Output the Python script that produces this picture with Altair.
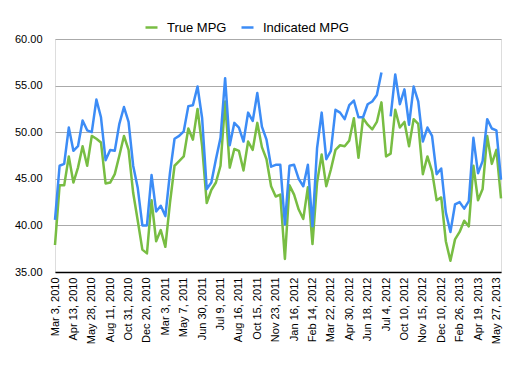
import altair as alt
import pandas as pd

true_mpg = [37.9, 44.3, 44.3, 47.4, 44.6, 46.2, 48.5, 46.4, 49.6, 49.3,
            48.9, 44.5, 44.6, 45.5, 47.5, 49.6, 48.1, 43.5, 40.5, 37.4,
            37.0, 42.7, 38.3, 39.5, 37.7, 42.4, 46.4, 46.9, 47.4, 50.4,
            49.2, 52.5, 48.5, 42.4, 43.8, 44.6, 46.4, 53.3, 46.2, 48.2,
            48.0, 45.9, 49.0, 48.1, 51.0, 48.4, 47.1, 44.2, 43.1, 43.3,
            36.4, 44.3, 43.3, 41.7, 40.7, 44.1, 38.0, 44.6, 47.6, 44.2,
            46.0, 48.1, 48.6, 48.5, 49.1, 51.5, 47.25, 51.5, 50.8, 50.3,
            51.1, 53.2, 47.4, 47.7, 52.4, 50.5, 51.1, 48.5, 51.4, 50.9,
            45.5, 47.4, 45.8, 42.7, 43.0, 38.3, 36.2, 38.5, 39.3, 40.5,
            39.9, 46.4, 42.7, 43.9, 49.6, 46.6, 48.1, 42.9]

indicated_mpg = [40.6, 46.4, 46.6, 50.5, 48.0, 48.5, 51.25, 50.2, 50.0, 53.5,
                 51.6, 47.0, 48.1, 48.0, 50.9, 52.7, 51.1, 46.4, 44.0, 40.0,
                 40.0, 45.4, 41.5, 42.1, 41.0, 45.6, 49.3, 49.6, 50.1, 52.8,
                 52.9, 54.9, 51.5, 43.9, 44.6, 47.1, 49.4, 55.8, 48.6, 51.0,
                 50.5, 49.0, 52.1, 51.2, 54.2, 50.6, 49.2, 46.3, 46.5, 46.5,
                 40.1, 46.4, 46.5, 45.0, 44.2, 46.5, 39.9, 48.3, 52.1, 47.1,
                 48.0, 52.4, 52.1, 51.4, 52.9, 53.4, 51.6, 51.6, 53.0, 53.3,
                 54.0, 56.4, None, 51.7, 56.2, 53.0, 54.6, 50.8, 54.9, 53.3,
                 49.0, 50.5, 49.6, 45.5, 46.1, 41.4, 39.3, 42.25, 42.5, 41.8,
                 42.6, 49.4, 45.6, 46.9, 51.4, 50.4, 50.2, 44.9]

tick_labels = ["Mar 3, 2010", "Apr 13, 2010", "May 28, 2010", "Aug 11, 2010",
               "Oct 31, 2010", "Dec 20, 2010", "Mar 3, 2011", "May 7, 2011",
               "Jun 30, 2011", "Jul 9, 2011", "Aug 16, 2011", "Oct 15, 2011",
               "Nov 23, 2011", "Jan 16, 2012", "Feb 14, 2012", "Mar 22, 2012",
               "Apr 30, 2012", "Jun 18, 2012", "Jul 4, 2012", "Oct 10, 2012",
               "Nov 15, 2012", "Dec 10, 2012", "Feb 26, 2013", "Apr 19, 2013",
               "May 27, 2013"]

y_ticks = [35, 40, 45, 50, 55, 60]
series_names = ["True MPG", "Indicated MPG"]
series_colors = ["#78bd43", "#3c8cf6"]

n = len(true_mpg)
rows = []
for i in range(n):
    rows.append({"idx": i, "series": "True MPG", "mpg": true_mpg[i]})
for i in range(n):
    rows.append({"idx": i, "series": "Indicated MPG", "mpg": indicated_mpg[i]})
df = pd.DataFrame(rows)

step = 4
tick_pos = [j * step for j in range(len(tick_labels))]
label_js = "[" + ",".join("'%s'" % s for s in tick_labels) + "]"
label_expr = f"{label_js}[round(datum.value / {step})]"

chart = alt.Chart(df).mark_line(
    strokeWidth=2.5, strokeJoin="round", invalid="break-paths-filter-domains"
).encode(
    x=alt.X("idx:Q",
            scale=alt.Scale(domain=[0, n - 1], nice=False, zero=False),
            axis=alt.Axis(values=tick_pos, labelExpr=label_expr, labelAngle=270,
                          title=None, grid=False, ticks=False,
                          domainColor="#000000", domainWidth=1.5,
                          labelFontSize=11, labelPadding=5, labelColor="#000000",
                          labelAlign="right", labelBaseline="middle",
                          labelOverlap=False, labelFlush=False)),
    y=alt.Y("mpg:Q",
            scale=alt.Scale(domain=[35, 60], nice=False, zero=False),
            axis=alt.Axis(values=y_ticks, format=".2f", title=None, domain=False,
                          ticks=False, gridColor="#aaaaaa", gridWidth=1,
                          labelPadding=13, labelFontSize=11, labelColor="#000000")),
    color=alt.Color("series:N",
                    scale=alt.Scale(domain=series_names, range=series_colors),
                    sort=series_names,
                    legend=alt.Legend(orient="none", legendX=89, legendY=-19,
                                      direction="horizontal", title=None,
                                      symbolType="stroke", symbolStrokeWidth=2.5,
                                      symbolSize=144, labelFontSize=13,
                                      labelOffset=8, columnPadding=9,
                                      gridAlign="none",
                                      padding=0, labelColor="#000000")),
).properties(
    width=446, height=233,
    autosize=alt.AutoSizeParams(type="none"),
    padding={"left": 47, "top": 31, "right": 10, "bottom": 80},
).configure_view(stroke=None).configure(font="Liberation Sans")

chart.save("out.html", embed_options={"renderer": "svg", "actions": False})
